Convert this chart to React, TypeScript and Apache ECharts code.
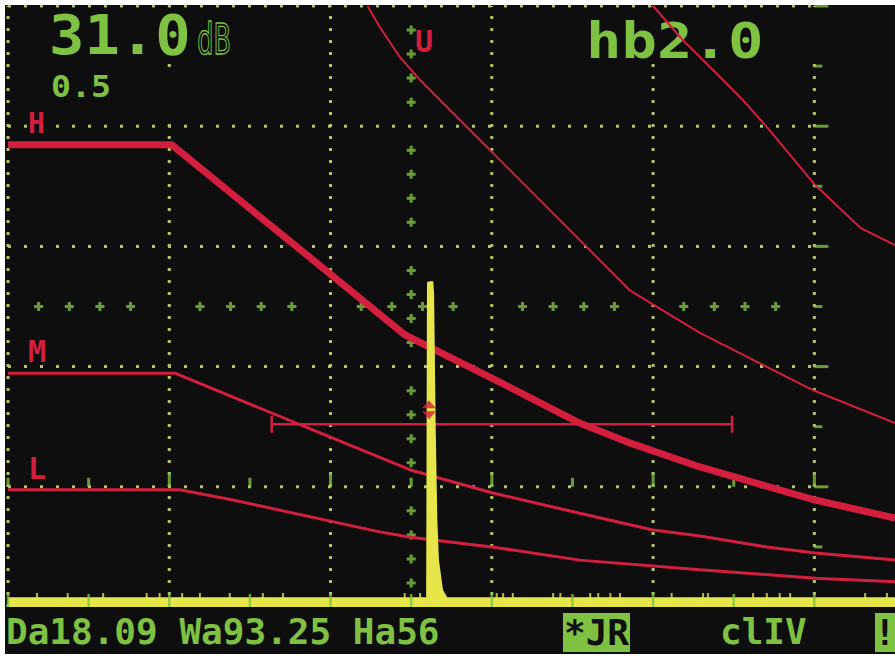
import React, { useEffect, useRef } from "react";
import * as echarts from "echarts";

// ---- data (x: screen units 0..110, y: amplitude % 0..100) ----
const hCurve = [[0, 76.9], [20.3, 76.9], [49.2, 45.3], [60.0, 38.1], [70.9, 30.6], [77.1, 27.3], [85.8, 23.3], [100.1, 17.8], [110, 14.8]];
const uCurve1 = [[44.6, 100], [46.1, 96.5], [48.6, 91.5], [51.1, 87.7], [54.8, 82.7], [73.4, 57.7], [77.1, 52.7], [85.8, 45.6], [99.8, 36.1], [110, 30.6]];
const uCurve2 = [[80.0, 100], [83.7, 94.3], [87.4, 89.4], [91.1, 84.4], [94.1, 79.9], [100.1, 70.2], [105.7, 63.1], [110, 60.2]];
const mCurve = [[0, 38.9], [20.7, 38.9], [39.9, 28.3], [49.9, 22.8], [60.0, 19.0], [70.9, 15.6], [80.0, 12.8], [85.8, 11.8], [94.1, 10.0], [100.1, 9.0], [110, 7.8]];
const lCurve = [[0, 19.5], [21.3, 19.5], [27.9, 17.8], [46.1, 12.5], [49.9, 11.6], [60.0, 10.0], [70.9, 7.8], [85.8, 6.2], [100.1, 4.8], [110, 4.2]];
const aScan = [[0, 1.5], [51.95, 1.5], [52.05, 54], [52.65, 54.1], [52.75, 52], [52.95, 29.5], [53.15, 14.5], [53.35, 7.8], [53.85, 2.8], [54.4, 1.5], [110, 1.5]];
const gate = [[32.7, 30.4], [89.8, 30.4]];
const gateMarker = [[52.2, 32.8]];

const gridX = [0, 20, 40, 60, 80, 100];
const gridY = [20, 40, 60, 80, 100];
const plusRowY = 50;
const plusRowX = [3.8, 7.6, 11.4, 15.2, 23.8, 27.6, 31.4, 35.2, 43.8, 47.6, 51.4, 55.2, 63.8, 67.6, 71.4, 75.2, 83.8, 87.6, 91.4, 95.2];
const plusColX = 50;
const plusColY = [4, 8, 12, 16, 24, 28, 32, 36, 44, 48, 52, 56, 64, 68, 72, 76, 84, 88, 92, 96];
const rowTickY = 20;
const rowTicksMajor = [20, 40, 60, 80, 100];
const rowTicksMinor = [0, 10, 30, 50, 70, 90];
const rightScaleX = 100;
const rightTicksMajor = [20, 40, 60, 80, 100];
const rightTicksMinor = [10, 30, 50, 70, 90];
const baseTicks = [0, 10, 20, 30, 40, 50, 60, 70, 80, 90, 100];
const grassX = [3.6, 7.4, 11.8, 17.2, 18.8, 21.6, 23.8, 27.5, 31.6, 34.1, 49.2, 51.1, 60.6, 61.4, 62.6, 67.6, 68.5, 72.2, 73.2, 74.7, 75.9, 82.3, 86.2, 86.8, 92.4, 94.1, 95.7, 97.0, 106.3, 109.0];

const gainText = "31.0";
const gainUnit = "dB";
const stepText = "0.5";
const modeText = "hb2.0";
const statusText = "Da18.09 Wa93.25 Ha56";
const probeText = "*JR";
const classText = "clIV";
const alertText = "!";

// ---- styles ----
const BG = "#0e0e0e";
const GREEN = "#7fc241";
const DOT = "#b4c464";
const RED = "#d31f3d";
const YELLOW = "#e6e64a";
const MONO = '"DejaVu Sans Mono", monospace';

const plusPath = "path://M3,0H6V3H9V6H6V9H3V6H0V3H3Z";

function ticks(xs: number[], y: number) {
  return xs.map((x) => [x, y]);
}

const option: any = {
  animation: false,
  backgroundColor: BG,
  grid: { left: 8, top: 6, width: 887, height: 601 },
  xAxis: { type: "value", min: 0, max: 110, show: false },
  yAxis: { type: "value", min: 0, max: 100, show: false },
  series: [
    {
      type: "custom",
      silent: true,
      z: 1,
      data: [...gridX.map((v) => [v, 0]), ...gridY.map((v) => [v, 1])],
      renderItem: (params: any, api: any) => {
        const v = api.value(0);
        const k = api.value(1);
        const p1 = k === 0 ? api.coord([v, 0]) : api.coord([0, v]);
        const p2 = k === 0 ? api.coord([v, 100]) : api.coord([100, v]);
        return {
          type: "line",
          shape: { x1: p1[0], y1: p1[1], x2: p2[0], y2: p2[1] },
          style: { stroke: DOT, lineWidth: 3, lineDash: k === 0 ? [3, 9] : [3, 13] },
        };
      },
    },
    {
      type: "scatter", silent: true, z: 1, symbol: plusPath, symbolSize: 9,
      itemStyle: { color: GREEN },
      data: [...plusRowX.map((x) => [x, plusRowY]), ...plusColY.map((y) => [plusColX, y])],
    },
    {
      type: "scatter", silent: true, z: 1, symbol: "rect", symbolSize: [3, 14], symbolOffset: [0, -7],
      itemStyle: { color: GREEN }, data: ticks(rowTicksMajor, rowTickY),
    },
    {
      type: "scatter", silent: true, z: 1, symbol: "rect", symbolSize: [3, 9], symbolOffset: [0, -4.5],
      itemStyle: { color: GREEN }, data: ticks(rowTicksMinor, rowTickY),
    },
    {
      type: "scatter", silent: true, z: 1, symbol: "rect", symbolSize: [14, 3], symbolOffset: [7, 0],
      itemStyle: { color: GREEN }, data: rightTicksMajor.map((y) => [rightScaleX, y]),
    },
    {
      type: "scatter", silent: true, z: 1, symbol: "rect", symbolSize: [8, 3], symbolOffset: [4, 0],
      itemStyle: { color: GREEN }, data: rightTicksMinor.map((y) => [rightScaleX, y]),
    },
    { type: "line", silent: true, z: 4, data: uCurve1, symbol: "none", lineStyle: { color: RED, width: 2 } },
    { type: "line", silent: true, z: 4, data: uCurve2, symbol: "none", lineStyle: { color: RED, width: 2 } },
    { type: "line", silent: true, z: 4, data: mCurve, symbol: "none", lineStyle: { color: RED, width: 3 } },
    { type: "line", silent: true, z: 4, data: lCurve, symbol: "none", lineStyle: { color: RED, width: 3 } },
    { type: "line", silent: true, z: 4, data: hCurve, symbol: "none", lineStyle: { color: RED, width: 7 } },
    {
      type: "line", silent: true, z: 4, data: gate, symbol: "rect", symbolSize: [2.5, 17], showSymbol: true,
      itemStyle: { color: RED }, lineStyle: { color: RED, width: 2.5 },
    },
    {
      type: "line", silent: true, z: 5, data: aScan, symbol: "none",
      lineStyle: { color: YELLOW, width: 1.5 }, areaStyle: { color: YELLOW, opacity: 1 },
    },
    {
      type: "scatter", silent: true, z: 5, symbol: "rect", symbolSize: [2, 5], symbolOffset: [0, -2.5],
      itemStyle: { color: YELLOW }, data: grassX.map((x) => [x, 1.5]),
    },
    {
      type: "scatter", silent: true, z: 6, symbol: "rect", symbolSize: [2.5, 13], symbolOffset: [0, -6.5],
      itemStyle: { color: GREEN }, data: baseTicks.map((x) => [x, 0]),
    },
    {
      type: "scatter", silent: true, z: 6,
      symbol: "path://M7,0L14,8H0Z M0,11H14L7,19Z", symbolSize: [14, 19],
      itemStyle: { color: RED }, data: gateMarker,
    },
  ],
  graphic: [
    // text backgrounds
    { type: "rect", z: 2, shape: { x: 40, y: 10, width: 250, height: 50 }, style: { fill: BG } },
    { type: "rect", z: 2, shape: { x: 40, y: 71, width: 250, height: 44 }, style: { fill: BG } },
    { type: "rect", z: 2, shape: { x: 560, y: 10, width: 270, height: 52 }, style: { fill: BG } },
    { type: "rect", z: 2, shape: { x: 0, y: 608, width: 895, height: 49 }, style: { fill: BG } },
    // top texts
    { type: "text", z: 3, x: 49, y: 35, scaleX: 1.07, style: { text: gainText, fill: GREEN, font: `bold 55px ${MONO}`, verticalAlign: "middle" } },
    { type: "text", z: 3, x: 197, y: 39, scaleX: 0.66, style: { text: gainUnit, fill: "none", stroke: GREEN, lineWidth: 1.3, font: `42px ${MONO}`, verticalAlign: "middle" } },
    { type: "text", z: 3, x: 51, y: 86, scaleX: 1.07, style: { text: stepText, fill: GREEN, font: `bold 31px ${MONO}`, verticalAlign: "middle" } },
    { type: "text", z: 3, x: 586, y: 41, scaleX: 1.18, style: { text: modeText, fill: GREEN, font: `bold 50px ${MONO}`, verticalAlign: "middle" } },
    // curve labels
    { type: "text", z: 3, x: 28, y: 123, style: { text: "H", fill: RED, font: `bold 28px ${MONO}`, verticalAlign: "middle" } },
    { type: "text", z: 3, x: 415, y: 41, style: { text: "U", fill: RED, font: `bold 30px ${MONO}`, verticalAlign: "middle" } },
    { type: "text", z: 3, x: 28, y: 351, style: { text: "M", fill: RED, font: `bold 30px ${MONO}`, verticalAlign: "middle" } },
    { type: "text", z: 3, x: 28, y: 468, style: { text: "L", fill: RED, font: `bold 30px ${MONO}`, verticalAlign: "middle" } },
    // status bar
    { type: "text", z: 3, x: 6, y: 631, style: { text: statusText, fill: GREEN, font: `bold 36px ${MONO}`, verticalAlign: "middle" } },
    { type: "rect", z: 3, shape: { x: 563, y: 613, width: 67, height: 39 }, style: { fill: GREEN } },
    { type: "text", z: 4, x: 564, y: 632, style: { text: probeText, fill: BG, font: `bold 36px ${MONO}`, verticalAlign: "middle" } },
    { type: "text", z: 3, x: 720, y: 631, style: { text: classText, fill: GREEN, font: `bold 36px ${MONO}`, verticalAlign: "middle" } },
    { type: "rect", z: 3, shape: { x: 875, y: 613, width: 20, height: 39 }, style: { fill: GREEN } },
    { type: "text", z: 4, x: 874, y: 632, style: { text: alertText, fill: BG, font: `bold 36px ${MONO}`, verticalAlign: "middle" } },
    // white page margins of the photo
    { type: "rect", z: 20, shape: { x: 0, y: 0, width: 895, height: 5 }, style: { fill: "#ffffff" } },
    { type: "rect", z: 20, shape: { x: 0, y: 0, width: 5, height: 657 }, style: { fill: "#ffffff" } },
    { type: "rect", z: 20, shape: { x: 0, y: 654, width: 895, height: 3 }, style: { fill: "#ffffff" } },
  ],
};

export default function App() {
  const ref = useRef<HTMLDivElement>(null);
  useEffect(() => {
    const chart = echarts.init(ref.current!, null, { renderer: "svg" });
    chart.setOption(option);
    return () => chart.dispose();
  }, []);
  return (
    <div
      ref={ref}
      style={{ position: "fixed", left: 0, top: 0, width: 895, height: 657, background: "#ffffff" }}
    />
  );
}
